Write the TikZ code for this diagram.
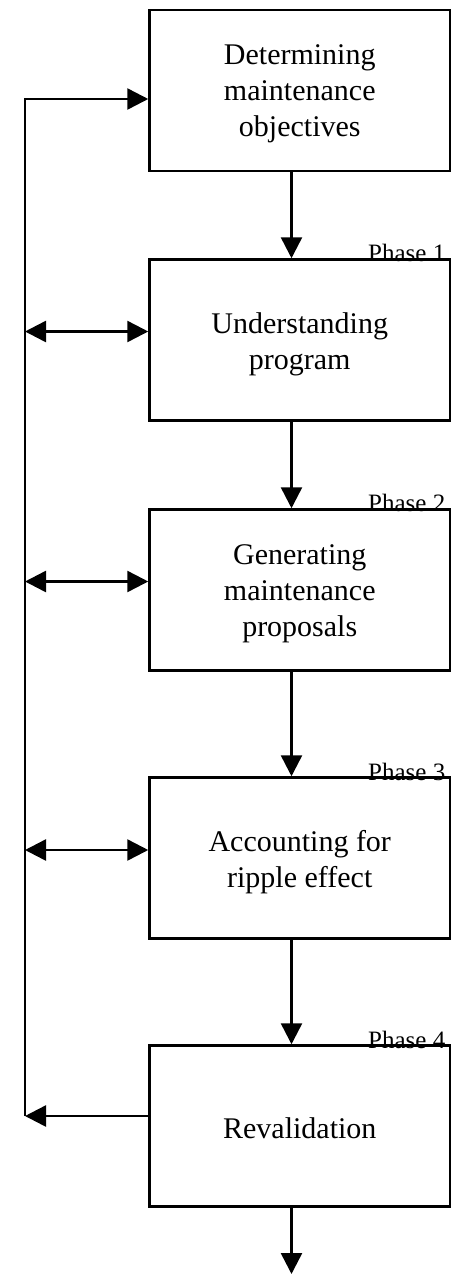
\documentclass[tikz,border=0pt]{standalone}
\usepackage{fontspec}
\setmainfont{Liberation Serif}
\usetikzlibrary{arrows.meta}
\begin{document}
\begin{tikzpicture}[x=1pt,y=-1pt,
  phasebox/.style={draw, line width=2.5pt, rectangle, minimum width=300.5pt,
    minimum height=161pt, inner sep=0pt, align=center,
    font=\fontsize{30}{36}\selectfont},
  steptext/.style={inner sep=0pt, align=center, font=\fontsize{30}{36}\selectfont},
  phaselabel/.style={anchor=base west, inner sep=0pt,
    font=\fontsize{25}{27}\selectfont},
  flow/.style={line width=2.5pt, line join=miter, -{Triangle[length=21pt,width=21pt]}},
  both/.style={line width=2.5pt, {Triangle[length=21pt,width=21pt]}-{Triangle[length=21pt,width=21pt]}}]
  \useasboundingbox (0,0) rectangle (452,1275);

  % the five maintenance steps
  \node[phasebox] (b1) at (299.75,90.25) {};
  \node[phasebox] (b2) at (299.75,340)   {};
  \node[phasebox] (b3) at (299.75,590)   {};
  \node[phasebox] (b4) at (299.75,858)   {};
  \node[phasebox] (b5) at (299.75,1126)  {};
  \node[steptext] (s1) at ([yshift=-4pt]b1.center) {Determining\\maintenance\\objectives};
  \node[steptext] (s2) at ([yshift=-4pt]b2.center) {Understanding\\program};
  \node[steptext] (s3) at ([yshift=-4pt]b3.center) {Generating\\maintenance\\proposals};
  \node[steptext] (s4) at ([yshift=-4pt]b4.center) {Accounting for\\ripple effect};
  \node[steptext] (s5) at ([yshift=-2pt]b5.center) {Revalidation};

  % phase labels sitting on the top edges
  \node[phaselabel] (p1) at (368,261)  {Phase 1};
  \node[phaselabel] (p2) at (368,511)  {Phase 2};
  \node[phaselabel] (p3) at (368,780)  {Phase 3};
  \node[phaselabel] (p4) at (368,1048) {Phase 4};

  % downward flow between steps
  \coordinate (ax) at (291.5,0);
  \coordinate (out) at (291.5,1274);
  \draw[flow] (b1.south -| ax) -- (b2.north -| ax);
  \draw[flow] (b2.south -| ax) -- (b3.north -| ax);
  \draw[flow] (b3.south -| ax) -- (b4.north -| ax);
  \draw[flow] (b4.south -| ax) -- (b5.north -| ax);
  \draw[flow] (b5.south -| ax) -- (out);

  % feedback bus on the left
  \coordinate (t1) at (25,99);
  \coordinate (t2) at (25,331.5);
  \coordinate (t3) at (25,581.5);
  \coordinate (t4) at (25,850);
  \coordinate (t5) at (25,1116);
  \draw[flow] (b5.west |- t5) -- (t5);
  \draw[flow] (t5) -- (t1) -- (b1.west |- t1);
  \draw[both] (t2) -- (b2.west |- t2);
  \draw[both] (t3) -- (b3.west |- t3);
  \draw[both] (t4) -- (b4.west |- t4);
\end{tikzpicture}
\end{document}
